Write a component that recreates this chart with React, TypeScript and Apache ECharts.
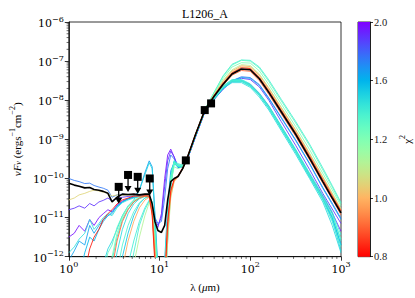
import React, { useEffect, useRef } from 'react';
import * as echarts from 'echarts';

// wavelength grid (micron) shared by all SED curves
const WAVE = [1.0, 1.15, 1.3, 1.5, 1.7, 1.9, 2.15, 2.4, 2.7, 3.0, 3.4, 3.9, 4.5, 5.2, 6.0, 6.9, 7.7, 8.3, 8.9, 9.6, 10.5, 11.4, 12.3, 13.3, 14.5, 16.0, 18.0, 20.0, 25, 31.6, 40, 50, 63, 80, 100, 126, 160, 220, 316, 450, 630, 800, 1000];

const O = -13.5; // below the plotted range

// log10(nuFnu) of best fit
const BEST_LOGF = [-10.12, -10.17, -10.2, -10.24, -10.23, -10.28, -10.3, -10.33, -10.38, -10.6, -10.48, -10.4, -10.41, -10.4, -10.42, -10.4, -10.4, -10.65, -11.1, -11.33, -11.38, -11.2, -10.55, -10.08, -10.0, -9.95, -9.75, -9.5, -8.87, -8.25, -7.9, -7.6, -7.33, -7.2, -7.22, -7.45, -7.8, -8.3, -8.87, -9.48, -10.08, -10.5, -10.88];

// model SEDs, log10(nuFnu)
const MODEL_01 = [O, O, O, -12.4, -11.8, -11.5, -11.3, -11.05, -10.9, -10.8, -10.65, -10.55, -10.5, -10.45, -10.45, -10.44, -10.45, -10.95, -12.2, -13.2, O, -12.6, -11.1, -10.3, -10.02, -9.93, -9.73, -9.5, -8.86, -8.25, -7.88, -7.57, -7.3, -7.17, -7.19, -7.42, -7.76, -8.26, -8.83, -9.43, -10.03, -10.45, -10.83];
const MODEL_02 = [O, O, O, O, O, O, O, O, -13.0, -12.3, -11.6, -11.1, -10.8, -10.6, -10.5, -10.45, -10.45, -10.85, -12.0, -13.2, O, -12.8, -11.2, -10.35, -10.05, -9.95, -9.75, -9.5, -8.87, -8.26, -7.9, -7.62, -7.36, -7.24, -7.26, -7.5, -7.85, -8.35, -8.92, -9.52, -10.12, -10.53, -10.93];
const MODEL_03 = [O, O, O, O, O, O, O, O, O, O, -13.0, -12.3, -11.6, -11.1, -10.75, -10.55, -10.48, -10.8, -11.8, -13.0, O, -12.9, -11.4, -10.45, -10.08, -9.96, -9.76, -9.51, -8.87, -8.24, -7.86, -7.53, -7.25, -7.12, -7.14, -7.36, -7.7, -8.2, -8.77, -9.37, -9.97, -10.4, -10.8];
const MODEL_04 = [-10.55, -10.5, -10.42, -10.38, -10.33, -10.3, -10.32, -10.35, -10.38, -10.45, -10.42, -10.42, -10.43, -10.45, -10.45, -10.46, -10.48, -10.9, -12.1, -13.3, O, -12.7, -11.2, -10.35, -10.04, -9.95, -9.74, -9.5, -8.86, -8.25, -7.88, -7.56, -7.28, -7.15, -7.17, -7.4, -7.74, -8.24, -8.81, -9.41, -10.01, -10.43, -10.83];
const MODEL_05 = [O, O, O, O, O, O, O, O, O, O, O, O, -13.0, -12.2, -11.5, -10.95, -10.62, -10.85, -11.9, -13.0, O, -13.0, -11.6, -10.5, -10.05, -9.93, -9.74, -9.5, -8.86, -8.24, -7.85, -7.5, -7.22, -7.09, -7.11, -7.33, -7.68, -8.18, -8.75, -9.35, -9.95, -10.37, -10.77];
const MODEL_06 = [O, O, O, O, O, O, O, -13.0, -12.5, -12.0, -11.4, -11.0, -10.72, -10.56, -10.48, -10.44, -10.43, -10.7, -11.6, -12.8, O, -12.5, -11.3, -10.1, -9.7, -9.75, -9.7, -9.52, -8.87, -8.24, -7.83, -7.45, -7.15, -7.04, -7.05, -7.25, -7.6, -8.1, -8.67, -9.26, -9.87, -10.29, -10.7];
const MODEL_07 = [O, O, O, O, O, O, -13.0, -12.4, -11.9, -11.7, -11.25, -10.95, -10.72, -10.58, -10.5, -10.45, -10.44, -10.6, -11.3, -12.5, O, -12.3, -11.0, -9.95, -9.6, -9.68, -9.66, -9.52, -8.88, -8.23, -7.8, -7.4, -7.1, -6.98, -7.0, -7.18, -7.52, -8.02, -8.58, -9.16, -9.78, -10.22, -10.65];
const MODEL_08 = [O, O, O, O, O, O, O, O, O, -13.0, -12.4, -11.7, -11.2, -10.85, -10.62, -10.5, -10.46, -10.65, -11.5, -12.8, O, -12.6, -11.2, -10.05, -9.58, -9.66, -9.68, -9.52, -8.9, -8.27, -7.95, -7.66, -7.5, -7.5, -7.62, -7.86, -8.18, -8.7, -9.3, -9.92, -10.5, -10.95, -11.55];
const MODEL_09 = [O, O, O, O, O, O, O, O, O, O, O, -12.9, -12.2, -11.6, -11.1, -10.75, -10.55, -10.7, -11.4, -12.6, O, -12.9, -11.5, -10.2, -9.55, -9.62, -9.66, -9.53, -8.9, -8.28, -7.96, -7.68, -7.52, -7.52, -7.64, -7.88, -8.2, -8.74, -9.33, -9.96, -10.55, -11.1, -11.75];
const MODEL_10 = [O, O, O, O, O, O, O, O, -12.8, -12.1, -11.5, -11.05, -10.78, -10.6, -10.5, -10.45, -10.44, -10.62, -11.35, -12.5, -13.3, -12.4, -11.1, -10.0, -9.6, -9.7, -9.68, -9.52, -8.88, -8.26, -7.93, -7.63, -7.47, -7.47, -7.58, -7.82, -8.14, -8.66, -9.25, -9.86, -10.42, -10.85, -11.45];
const MODEL_11 = [-11.9, -11.75, -11.55, -11.4, -11.05, -11.3, -11.15, -11.0, -10.9, -10.95, -10.75, -10.62, -10.55, -10.5, -10.47, -10.45, -10.45, -10.62, -11.25, -12.3, -13.2, -12.2, -10.95, -9.95, -9.62, -9.7, -9.68, -9.52, -8.88, -8.26, -7.94, -7.65, -7.49, -7.49, -7.61, -7.85, -8.17, -8.68, -9.28, -9.9, -10.47, -10.9, -11.6];
const MODEL_12 = [O, O, O, O, O, -13.0, -12.6, -12.2, -11.8, -11.6, -11.3, -10.95, -10.7, -10.55, -10.3, -9.9, -9.6, -9.75, -11.0, -12.6, O, -12.5, -11.2, -10.0, -9.58, -9.68, -9.68, -9.53, -8.9, -8.28, -7.96, -7.67, -7.51, -7.51, -7.63, -7.87, -8.2, -8.72, -9.32, -9.95, -10.52, -11.05, -11.85];
const MODEL_13 = [O, O, O, O, O, O, O, O, O, O, -12.7, -12.0, -11.4, -10.95, -10.65, -10.5, -10.46, -10.62, -11.3, -12.5, -13.4, -12.3, -11.0, -9.9, -9.55, -9.66, -9.68, -9.52, -8.89, -8.27, -7.95, -7.66, -7.5, -7.5, -7.61, -7.85, -8.17, -8.69, -9.28, -9.9, -10.5, -10.98, -11.7];
const MODEL_14 = [-12.1, -11.85, -11.6, -11.7, -11.2, -11.4, -11.2, -11.05, -10.95, -10.9, -10.7, -10.6, -10.52, -10.48, -10.3, -9.85, -9.55, -9.7, -10.9, -12.3, -13.2, -12.1, -10.7, -9.8, -9.6, -9.72, -9.7, -9.54, -8.92, -8.28, -7.97, -7.7, -7.5, -7.42, -7.44, -7.62, -7.96, -8.46, -9.03, -9.63, -10.25, -10.66, -11.05];
const MODEL_15 = [-10.0, -10.05, -10.08, -10.13, -10.12, -10.18, -10.22, -10.25, -10.3, -10.48, -10.42, -10.4, -10.42, -10.43, -10.44, -10.45, -10.47, -10.7, -11.0, -11.15, -11.1, -10.5, -9.75, -9.4, -9.5, -9.72, -9.7, -9.53, -8.92, -8.3, -7.98, -7.72, -7.5, -7.4, -7.42, -7.6, -7.94, -8.44, -9.01, -9.61, -10.23, -10.63, -11.02];
const MODEL_16 = [-10.8, -10.76, -10.7, -10.76, -10.64, -10.7, -10.6, -10.56, -10.5, -10.58, -10.5, -10.48, -10.46, -10.45, -10.45, -10.46, -10.48, -10.75, -11.05, -11.2, -11.0, -10.2, -9.55, -9.3, -9.45, -9.7, -9.72, -9.55, -8.93, -8.3, -7.98, -7.72, -7.52, -7.44, -7.47, -7.66, -8.0, -8.55, -9.15, -9.77, -10.38, -10.78, -11.15];
const MODEL_17 = [-11.5, -11.4, -11.2, -11.35, -11.05, -11.2, -11.0, -10.9, -10.8, -10.85, -10.68, -10.58, -10.52, -10.48, -10.46, -10.46, -10.47, -10.8, -11.15, -11.25, -10.9, -10.0, -9.4, -9.25, -9.45, -9.72, -9.72, -9.55, -8.93, -8.29, -7.97, -7.69, -7.52, -7.5, -7.6, -7.83, -8.15, -8.68, -9.28, -9.9, -10.45, -10.88, -11.35];
const MODEL_18 = [O, O, O, O, O, O, O, O, O, O, O, O, -12.7, -11.9, -11.2, -10.8, -10.58, -10.7, -11.5, -12.8, O, -13.0, -11.6, -10.25, -9.6, -9.65, -9.67, -9.53, -8.88, -8.23, -7.8, -7.38, -7.08, -6.97, -6.98, -7.15, -7.48, -7.98, -8.54, -9.12, -9.73, -10.18, -10.62];
const MODEL_19 = [O, O, O, O, O, O, O, O, O, -12.6, -11.9, -11.3, -10.9, -10.65, -10.52, -10.46, -10.45, -10.66, -11.45, -12.7, O, -12.7, -11.3, -10.1, -9.58, -9.66, -9.68, -9.53, -8.9, -8.28, -7.97, -7.7, -7.55, -7.55, -7.67, -7.92, -8.25, -8.78, -9.38, -10.0, -10.6, -11.2, -11.9];
const MODEL_20 = [O, O, -12.5, -11.9, -11.5, -11.6, -11.3, -11.1, -10.95, -10.85, -10.72, -10.6, -10.52, -10.48, -10.46, -10.45, -10.45, -10.64, -11.3, -12.5, O, -12.5, -11.1, -10.0, -9.6, -9.68, -9.69, -9.53, -8.9, -8.27, -7.95, -7.67, -7.51, -7.51, -7.63, -7.87, -8.2, -8.72, -9.32, -9.95, -10.52, -11.0, -11.7];

const MODEL_CHI2 = [0.82, 0.9, 0.98, 1.05, 1.12, 1.2, 1.3, 1.35, 1.4, 1.42, 1.45, 1.5, 1.55, 1.65, 1.75, 1.9, 1.97, 1.38, 1.48, 1.6];
const MODEL_SEDS = [MODEL_01, MODEL_02, MODEL_03, MODEL_04, MODEL_05, MODEL_06, MODEL_07, MODEL_08, MODEL_09, MODEL_10, MODEL_11, MODEL_12, MODEL_13, MODEL_14, MODEL_15, MODEL_16, MODEL_17, MODEL_18, MODEL_19, MODEL_20];

// photometry
const PHOT_WAVE = [19.5, 31.5, 37.0];
const PHOT_FLUX = [2.9e-10, 5.6e-9, 8.3e-9];
const UL_WAVE = [3.55, 4.5, 5.75, 7.8];
const UL_FLUX = [6.1e-11, 1.23e-10, 1.1e-10, 1.0e-10];

// colorbar
const CB_TICKS = [0.8, 1.0, 1.2, 1.6, 2.0];
const CB_LABELS = ['0.8', '1.0', '1.2', '1.6', '2.0'];

const X_MINOR: number[] = [];
for (let e = 0; e < 3; e++) for (let m = 2; m <= 9; m++) X_MINOR.push(m * Math.pow(10, e));
const Y_MINOR: number[] = [];
for (let e = -12; e < -6; e++) for (let m = 2; m <= 9; m++) Y_MINOR.push(m * Math.pow(10, e));

const SERIF = 'Liberation Serif, DejaVu Serif, serif';
const MATH = 'DejaVu Serif, Liberation Serif, serif';

function rainbow(x: number): string {
  const r = Math.min(1, Math.abs(2 * x - 0.5));
  const g = Math.max(0, Math.sin(Math.PI * x));
  const b = Math.max(0, Math.cos((Math.PI * x) / 2));
  return `rgb(${Math.round(r * 255)},${Math.round(g * 255)},${Math.round(b * 255)})`;
}
function chi2Pos(c: number): number {
  for (let i = 0; i < CB_TICKS.length - 1; i++) {
    if (c <= CB_TICKS[i + 1]) {
      const t = (c - CB_TICKS[i]) / (CB_TICKS[i + 1] - CB_TICKS[i]);
      return (i + Math.max(0, Math.min(1, t))) / (CB_TICKS.length - 1);
    }
  }
  return 1;
}
const chi2Color = (c: number) => rainbow(1 - chi2Pos(c));

const expLabel = (v: number) => {
  const e = Math.round(Math.log10(v));
  return `{b|10}{s|${e < 0 ? '−' + -e : e}}`;
};
const expRich = {
  b: { fontSize: 11, fontFamily: MATH, color: '#000', lineHeight: 14, verticalAlign: 'bottom' },
  s: { fontSize: 8, fontFamily: MATH, color: '#000', lineHeight: 14, verticalAlign: 'top', padding: [0, 0, 5, 0] },
};

function buildOption() {
  const order = MODEL_CHI2.map((c, i) => i).sort((a, b) => MODEL_CHI2[b] - MODEL_CHI2[a]);
  const modelSeries = order.map((i) => ({
    type: 'line',
    xAxisIndex: 0,
    yAxisIndex: 0,
    showSymbol: false,
    silent: true,
    clip: true,
    data: WAVE.map((w, k) => [w, Math.pow(10, MODEL_SEDS[i][k])]),
    lineStyle: { width: 0.85, color: chi2Color(MODEL_CHI2[i]) },
  }));

  const cbStops = [] as { offset: number; color: string }[];
  for (let k = 0; k <= 20; k++) cbStops.push({ offset: k / 20, color: rainbow(k / 20) });

  return {
    animation: false,
    backgroundColor: '#fff',
    title: {
      text: 'L1206_A',
      left: 200,
      top: 3,
      textAlign: 'center',
      textStyle: { fontFamily: SERIF, fontSize: 12, fontWeight: 'normal', color: '#000' },
    },
    grid: [
      { left: 58, top: 22, width: 283, height: 234.7, show: true, borderColor: '#000', borderWidth: 0.8, backgroundColor: 'transparent' },
      { left: 358, top: 22, width: 12, height: 234.7, show: true, borderColor: '#000', borderWidth: 0.8, backgroundColor: 'transparent' },
    ],
    xAxis: [
      {
        type: 'log', logBase: 10, gridIndex: 0, min: 1, max: 1000, splitNumber: 3,
        axisLine: { show: true, onZero: false, lineStyle: { color: '#000', width: 0.8 } },
        axisTick: { show: true, inside: false, length: 4, lineStyle: { color: '#000', width: 0.8 } },
        axisLabel: { margin: 4, formatter: expLabel, rich: expRich },
        splitLine: { show: false },
        name: '{n|λ (}{i|μ}{n|m)}',
        nameLocation: 'middle',
        nameGap: 25,
        nameTextStyle: {
          rich: {
            n: { fontFamily: SERIF, fontSize: 11, color: '#000' },
            i: { fontFamily: SERIF, fontSize: 11, fontStyle: 'italic', color: '#000' },
          },
        },
      },
      { type: 'category', gridIndex: 1, data: ['cb'], show: false },
    ],
    yAxis: [
      {
        type: 'log', logBase: 10, gridIndex: 0, min: 1e-12, max: 1e-6, splitNumber: 6,
        axisLine: { show: true, onZero: false, lineStyle: { color: '#000', width: 0.8 } },
        axisTick: { show: true, inside: false, length: 4, lineStyle: { color: '#000', width: 0.8 } },
        axisLabel: { margin: 5, formatter: expLabel, rich: expRich },
        splitLine: { show: false },
        name: '{i|νF}{sub|ν}{n| (ergs}{sup|−1}{n|cm}{sup|−2}{n|)}',
        nameLocation: 'middle',
        nameGap: 42,
        nameRotate: 90,
        nameTextStyle: {
          rich: {
            i: { fontFamily: SERIF, fontSize: 11, fontStyle: 'italic', color: '#000', lineHeight: 14, verticalAlign: 'bottom' },
            n: { fontFamily: SERIF, fontSize: 11, color: '#000', lineHeight: 14, verticalAlign: 'bottom' },
            sub: { fontFamily: SERIF, fontSize: 8, fontStyle: 'italic', color: '#000', lineHeight: 14, verticalAlign: 'bottom', padding: [3, 0, 0, 0] },
            sup: { fontFamily: SERIF, fontSize: 8, color: '#000', lineHeight: 14, verticalAlign: 'top', padding: [0, 0, 5, 0] },
          },
        },
      },
      {
        type: 'value', gridIndex: 1, min: 0, max: 4, interval: 1, position: 'right',
        axisLine: { show: true, lineStyle: { color: '#000', width: 0.8 } },
        axisTick: { show: true, inside: false, length: 3, lineStyle: { color: '#000', width: 0.8 } },
        axisLabel: { margin: 4, fontFamily: SERIF, fontSize: 10.5, color: '#222', formatter: (v: number) => CB_LABELS[Math.round(v)] },
        splitLine: { show: false },
        name: '{c|χ}{s|2}',
        nameLocation: 'middle',
        nameRotate: 90,
        nameGap: 28,
        nameTextStyle: {
          rich: {
            c: { fontFamily: SERIF, fontSize: 11, color: '#000', lineHeight: 14, verticalAlign: 'bottom' },
            s: { fontFamily: SERIF, fontSize: 8, color: '#000', lineHeight: 14, verticalAlign: 'top', padding: [0, 0, 5, 0] },
          },
        },
      },
    ],
    series: [
      ...modelSeries,
      {
        type: 'line', xAxisIndex: 0, yAxisIndex: 0, showSymbol: false, silent: true, clip: true,
        data: WAVE.map((w, k) => [w, Math.pow(10, BEST_LOGF[k])]),
        lineStyle: { width: 1.6, color: '#000' },
        z: 5,
      },
      {
        type: 'custom', xAxisIndex: 0, yAxisIndex: 0, silent: true, clip: false, z: 6,
        data: UL_WAVE.map((w, k) => [w, UL_FLUX[k]]),
        renderItem: (params: any, api: any) => {
          const p = api.coord([api.value(0), api.value(1)]);
          return {
            type: 'group',
            children: [
              { type: 'line', shape: { x1: p[0], y1: p[1], x2: p[0], y2: p[1] + 12 }, style: { stroke: '#000', lineWidth: 1.3 } },
              { type: 'polygon', shape: { points: [[p[0] - 3.5, p[1] + 11], [p[0] + 3.5, p[1] + 11], [p[0], p[1] + 17]] }, style: { fill: '#000' } },
            ],
          };
        },
      },
      {
        type: 'scatter', xAxisIndex: 0, yAxisIndex: 0, silent: true, z: 7,
        symbol: 'rect', symbolSize: 8, itemStyle: { color: '#000', opacity: 1 },
        data: UL_WAVE.map((w, k) => [w, UL_FLUX[k]]).concat(PHOT_WAVE.map((w, k) => [w, PHOT_FLUX[k]])),
      },
      {
        type: 'custom', xAxisIndex: 0, yAxisIndex: 0, silent: true, clip: false,
        data: X_MINOR.map((v) => [v, 1e-12]),
        renderItem: (params: any, api: any) => {
          const p = api.coord([api.value(0), 1e-12]);
          return { type: 'line', shape: { x1: p[0], y1: p[1], x2: p[0], y2: p[1] + 2.2 }, style: { stroke: '#000', lineWidth: 0.6 } };
        },
      },
      {
        type: 'custom', xAxisIndex: 0, yAxisIndex: 0, silent: true, clip: false,
        data: Y_MINOR.map((v) => [1, v]),
        renderItem: (params: any, api: any) => {
          const p = api.coord([1, api.value(1)]);
          return { type: 'line', shape: { x1: p[0] - 2.2, y1: p[1], x2: p[0], y2: p[1] }, style: { stroke: '#000', lineWidth: 0.6 } };
        },
      },
      {
        type: 'bar', xAxisIndex: 1, yAxisIndex: 1, silent: true, barWidth: '100%',
        data: [4],
        itemStyle: { color: new echarts.graphic.LinearGradient(0, 0, 0, 1, cbStops) },
      },
    ],
  };
}

export default function App() {
  const ref = useRef<HTMLDivElement>(null);
  useEffect(() => {
    const chart = echarts.init(ref.current as HTMLDivElement, null, { renderer: 'svg' });
    chart.setOption(buildOption() as any);
    return () => chart.dispose();
  }, []);
  return <div ref={ref} style={{ position: 'absolute', left: 0, top: 0, width: 415, height: 298 }} />;
}
